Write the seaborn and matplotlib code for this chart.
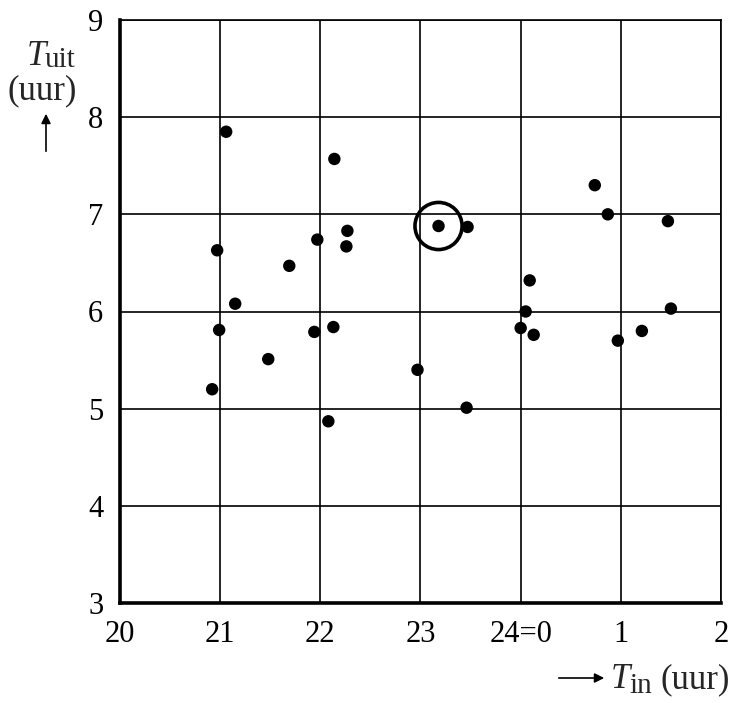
import numpy as np
import pandas as pd
import seaborn as sns
import matplotlib.pyplot as plt

# T_in in hours after 20:00 continues past midnight (24=0 -> 24, 1 -> 25, 2 -> 26)
t_in = [21.06, 22.14, 22.27, 21.97, 22.26, 20.97, 21.69, 21.15, 20.99, 21.94,
        22.13, 20.92, 21.48, 22.08, 23.18, 23.47, 24.09, 24.05, 24.00, 24.13,
        22.97, 23.46, 24.74, 24.87, 25.47, 25.50, 25.21, 24.97]
t_uit = [7.85, 7.57, 6.83, 6.74, 6.67, 6.63, 6.47, 6.08, 5.81, 5.79,
         5.84, 5.20, 5.51, 4.87, 6.88, 6.87, 6.32, 6.00, 5.83, 5.76,
         5.40, 5.01, 7.30, 7.00, 6.93, 6.03, 5.80, 5.70]
circled = 14  # index of the encircled point

x_ticks = [20, 21, 22, 23, 24, 25, 26]
x_ticklabels = ['20', '21', '22', '23', '24=0', '1', '2']
y_ticks = [3, 4, 5, 6, 7, 8, 9]

df = pd.DataFrame({'Tin': t_in, 'Tuit': t_uit})

sns.set_style('white')
plt.rcParams['font.family'] = ['Liberation Serif', 'DejaVu Serif']

fig = plt.figure(figsize=(7.38, 7.03), dpi=100)
ax = fig.add_axes([120 / 738, 100 / 703, 601 / 738, 583 / 703])

sns.scatterplot(data=df, x='Tin', y='Tuit', ax=ax, color='black', s=80,
                marker='o', edgecolor='none', zorder=3)
ax.scatter([t_in[circled]], [t_uit[circled]], s=1150, facecolors='none',
           edgecolors='black', linewidths=2.6, zorder=4)

ax.set_xlim(20, 26)
ax.set_ylim(3, 9)
ax.set_xticks(x_ticks)
ax.set_xticklabels(x_ticklabels)
ax.set_yticks(y_ticks)
ax.set_xlabel('')
ax.set_ylabel('')
ax.grid(True, color='black', linewidth=1.2)
ax.set_axisbelow(True)

for side in ['left', 'bottom']:
    ax.spines[side].set_linewidth(2.6)
    ax.spines[side].set_color('black')
for side in ['top', 'right']:
    ax.spines[side].set_linewidth(1.2)
    ax.spines[side].set_color('black')

ax.tick_params(axis='both', direction='out', length=8, width=1.5,
               colors='black', labelsize=22, pad=4)

# y label: T_uit (uur) with arrow up
fig.text(46 / 738, 1 - 65 / 703, 'T', ha='right', va='baseline', fontsize=25, style='italic')
fig.text(45 / 738, 1 - 67 / 703, 'uit', ha='left', va='baseline', fontsize=21)
fig.text(42 / 738, 1 - 91 / 703, '(uur)', ha='center', va='center', fontsize=25)
ax.annotate('', xy=(46 / 738, 1 - 111 / 703), xytext=(46 / 738, 1 - 154 / 703),
            xycoords='figure fraction',
            arrowprops=dict(arrowstyle='-|>', color='black', lw=1.2, mutation_scale=14))

# x label: arrow -> T_in (uur)
ax.annotate('', xy=(607 / 738, 1 - 678 / 703), xytext=(556 / 738, 1 - 678 / 703),
            xycoords='figure fraction',
            arrowprops=dict(arrowstyle='-|>', color='black', lw=1.2, mutation_scale=14))
fig.text(630 / 738, 1 - 688 / 703, 'T', ha='right', va='baseline', fontsize=25, style='italic')
fig.text(629 / 738, 1 - 693 / 703, 'in', ha='left', va='baseline', fontsize=21)
fig.text(661 / 738, 1 - 688 / 703, '(uur)', ha='left', va='baseline', fontsize=25)

fig.savefig('out.png', dpi=100)
